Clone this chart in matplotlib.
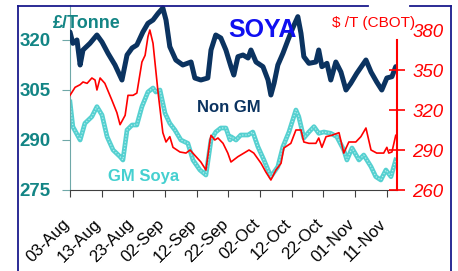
import datetime
import matplotlib
matplotlib.use("Agg")
import matplotlib.pyplot as plt
import matplotlib.dates as mdates
from matplotlib.lines import Line2D
from matplotlib.transforms import ScaledTranslation

plt.rcParams["font.family"] = ["Liberation Sans", "DejaVu Sans"]

# days after 03-Aug and prices
nongm_days = [0, 0.9, 2.2, 3.2, 4.1, 6.3, 8.5, 10.1, 12, 14.2, 16.4, 18, 19.6, 21.1, 23, 24.6,
              26.2, 27.8, 29.3, 30.3, 31.5, 33.4, 35.6, 38.2, 39.4, 41.3, 43.5, 44.5, 46, 47.6,
              49.2, 50.8, 51.7, 53, 54.6, 56.2, 57.1, 58.7, 60.9, 62.5, 63.4, 64.4, 65.6, 67.2,
              68.8, 70.3, 71.9, 72.9, 73.8, 75.4, 77.6, 78.5, 79.5, 81.1, 82.3, 83.9, 85.5, 87.1,
              88.6, 90.5, 93.4, 95, 96.8, 98.4, 100, 101.6, 102.8]
nongm_gbp = [322.4, 319, 320, 312.5, 317, 319, 321.5, 319.4, 316, 312.5, 308, 315.5, 317.6, 318.5,
             322.4, 325, 326, 328, 329.6, 326, 318, 314, 312.5, 313.4, 308.6, 308, 308.6, 317,
             321.5, 320.6, 317, 312, 309.5, 315, 315.5, 314.6, 317, 313.4, 312, 308, 303.5, 307,
             312.5, 316, 320, 323.6, 327, 322, 315, 313, 313.4, 317, 312, 313, 308, 313.4, 310.4,
             305, 307, 310, 314, 310.4, 307.4, 305, 308.6, 309, 312]

gm_days = [0, 0.9, 3.2, 4.7, 6.9, 8.5, 10.1, 11.7, 13.6, 15.8, 16.7, 18, 19.6, 21.1, 22.7, 24.6,
           26.2, 27.1, 28.4, 30, 31.5, 33.1, 35, 37.2, 38.8, 41, 42.9, 44.5, 46, 47.6, 49.2, 50.5,
           50.8, 52.4, 53.9, 56.2, 57.7, 59.3, 61.2, 63.4, 65.6, 67.2, 69.1, 71.3, 72.2, 73.8,
           75.4, 77, 78.5, 80.1, 82.3, 84.2, 86.4, 87.4, 89, 91.2, 92.7, 95, 96.5, 98.1, 99.7,
           101.3, 102.8]
gm_gbp = [301.4, 294, 290, 295, 297, 300, 297.5, 291, 287, 285, 284, 293, 294.5, 294.5, 300, 304.4,
          305.6, 304.4, 305, 298, 295, 293, 290, 289, 284, 281, 279.5, 290, 292.4, 293.6, 293.6,
          290, 291, 290, 291.5, 291.5, 292.4, 288, 284, 279, 282, 288, 292.4, 299, 297, 290.6,
          292.4, 294, 292, 292.4, 292, 291, 287, 284, 287.6, 284, 285.5, 282, 279, 278, 281, 279,
          284]

cbot_days = [0, 1.6, 3.2, 4.1, 5.4, 6.9, 7.9, 8.5, 9.5, 11, 13.2, 14.8, 15.8, 17.4, 18.3, 19.9,
             21.1, 22.7, 23.7, 24.6, 25.2, 26.2, 27.8, 29.3, 30.3, 31.5, 32.5, 34.7, 36.6, 37.9,
             39.4, 41.3, 42.9, 44.2, 44.5, 45.7, 46.7, 48.3, 49.8, 50.8, 53, 54.9, 56.5, 58, 60.3,
             61.8, 63.4, 65, 66.6, 67.5, 69.7, 71.3, 72.9, 73.8, 75.4, 77.6, 78.5, 79.5, 80.8,
             82.6, 84.9, 86.4, 88, 90.2, 91.8, 93.4, 95, 96.8, 99, 100, 100.6, 101.6, 102.8]
cbot_usd = [331, 337, 339, 341, 340, 344, 342.5, 335, 344, 340, 327.5, 318, 309, 316, 331, 331,
            332.7, 356, 361, 375, 380, 370, 333, 303, 296, 300, 292, 288.5, 287.7, 290, 286, 281,
            275, 297.5, 301, 297.5, 299, 295, 287.7, 281, 285, 287.7, 290, 287.7, 280, 273.5,
            267.5, 275, 280, 291.5, 295, 305, 305, 296, 295, 295, 299, 292, 300, 301, 303, 287.7,
            296, 296, 300, 306.5, 290, 287.7, 287.7, 292, 287.7, 288.5, 301]

left_ticks = [275, 290, 305, 320]
right_ticks = [260, 290, 320, 350, 380]

start = datetime.datetime(2000, 8, 3)
t0 = mdates.date2num(start)
date_ticks = [start + datetime.timedelta(days=10 * i) for i in range(11)]

teal = "#138585"
red = "#ff0000"

fig = plt.figure(figsize=(4.58, 2.71), dpi=100)
ax = fig.add_axes([70 / 458, 1 - 190 / 271, 327 / 458, 185 / 271])
ax2 = ax.twinx()

ax.plot([t0 + d for d in gm_days], gm_gbp, color="#55d0d0", lw=3.4, zorder=2)
ax.plot([t0 + d for d in gm_days], gm_gbp, color="#b5eeee", lw=0.9, ls=(0, (1, 1.5)), zorder=2)
ax.plot([t0 + d for d in nongm_days], nongm_gbp, color="#0b3360", lw=3.6, zorder=3,
        solid_capstyle="round", solid_joinstyle="round")
ax2.plot([t0 + d for d in cbot_days], cbot_usd, color=red, lw=1.2)

ax.set_xlim(t0, t0 + 103.2)
ax.set_ylim(275, 330.5)
ax2.set_ylim(260, 398.75)

ax.set_xticks(date_ticks)
ax.xaxis.set_major_formatter(mdates.DateFormatter("%d-%b"))
ax.tick_params(axis="x", direction="out", length=5, color="#404040", labelsize=12, pad=14)
# labels hang down-left from a point a little left of each tick
shift = ScaledTranslation(-8 / 100, 0, fig.dpi_scale_trans)
for lab in ax.get_xticklabels():
    lab.set_rotation(45)
    lab.set_ha("right")
    lab.set_va("top")
    lab.set_rotation_mode("anchor")
    lab.set_transform(lab.get_transform() + shift)

ax.set_yticks(left_ticks)
ax.tick_params(axis="y", direction="out", length=6, color="#6fa8a8", labelcolor=teal,
               labelsize=13.5, pad=8)
for lab in ax.get_yticklabels():
    lab.set_fontweight("bold")

ax2.set_yticks(right_ticks)
ax2.tick_params(axis="y", direction="inout", length=12, width=1.2, color=red, labelcolor=red,
                labelsize=13.5, pad=5)
for lab in ax2.get_yticklabels():
    lab.set_fontstyle("italic")
ax2.yaxis.get_major_ticks()[-1].tick2line.set_visible(False)

for a in (ax, ax2):
    a.spines["top"].set_visible(False)
    a.patch.set_visible(False)
ax.spines["right"].set_visible(False)
ax2.spines["left"].set_visible(False)
ax2.spines["bottom"].set_visible(False)
ax.spines["left"].set_color("#6fa8a8")
ax.spines["bottom"].set_color("#404040")
ax2.spines["right"].set_color(red)
ax2.spines["right"].set_linewidth(1.5)
ax2.spines["right"].set_bounds(260, 372.5)

fig.text(53 / 458, 1 - 24 / 271, "£/Tonne", color=teal, fontsize=13, fontweight="bold",
         va="center", ha="left")
fig.text(262 / 458, 1 - 30 / 271, "SOYA", color="#1010f0", fontsize=18, fontweight="bold",
         va="center", ha="center")
fig.text(332 / 458, 1 - 23 / 271, "$ /T (CBOT)", color=red, fontsize=11, va="center", ha="left")
fig.text(197 / 458, 1 - 107 / 271, "Non GM", color="#0b3360", fontsize=12, fontweight="bold",
         va="center", ha="left")
fig.text(108 / 458, 1 - 177 / 271, "GM Soya", color="#45d0d0", fontsize=12, fontweight="bold",
         va="center", ha="left")

# frame around the chart
frame = "#1a1a8c"
for xs, ys in [([18, 18], [271, 6]), ([18, 368], [6, 6]), ([410, 451], [6, 6]), ([451, 451], [6, 271])]:
    fig.add_artist(Line2D([x / 458 for x in xs], [1 - y / 271 for y in ys], color=frame, lw=1.3))

fig.savefig("out.png", dpi=100)
